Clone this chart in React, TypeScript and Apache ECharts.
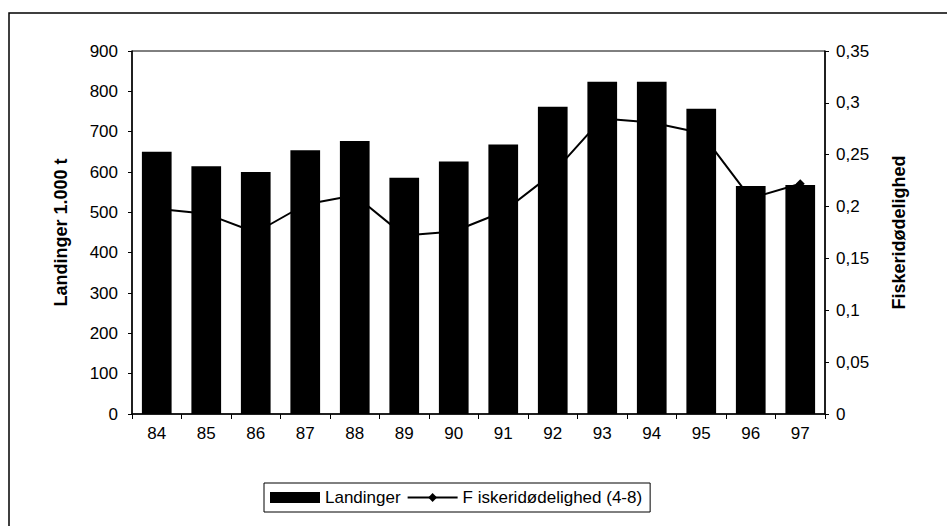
import React, { useEffect, useRef } from "react";
import * as echarts from "echarts";

const years = ["84", "85", "86", "87", "88", "89", "90", "91", "92", "93", "94", "95", "96", "97"];
const landinger = [650, 614, 600, 654, 677, 586, 626, 668, 762, 824, 824, 757, 565, 568];
const fiskeridodelighed = [0.198, 0.193, 0.175, 0.202, 0.211, 0.172, 0.176, 0.195, 0.232, 0.285, 0.281, 0.271, 0.208, 0.222];
const leftName = "Landinger 1.000 t";
const rightName = "Fiskeridødelighed";
const barName = "Landinger";
const lineName = "F iskeridødelighed (4-8)";

const FONT = "'Liberation Sans', Arial, sans-serif";

export default function App() {
  const ref = useRef<HTMLDivElement>(null);
  useEffect(() => {
    if (!ref.current) return;
    const chart = echarts.init(ref.current, null, { renderer: "svg" });
    chart.setOption({
      animation: false,
      backgroundColor: "#ffffff",
      textStyle: { fontFamily: FONT, color: "#000" },
      graphic: [
        {
          type: "rect",
          shape: { x: 9, y: 13, width: 960, height: 540 },
          style: { fill: "none", stroke: "#000", lineWidth: 1.5 },
          silent: true,
        },
      ],
      grid: {
        left: 132,
        right: 122,
        top: 51,
        bottom: 112,
        show: true,
        borderColor: "#000",
        borderWidth: 1,
        containLabel: false,
      },
      legend: {
        left: 264,
        top: 483,
        width: 420,
        borderColor: "#000",
        borderWidth: 1,
        padding: [6, 8, 6, 6],
        itemGap: 6,
        itemWidth: 50,
        itemHeight: 11,
        textStyle: { fontFamily: FONT, fontSize: 17, color: "#000" },
        data: [
          { name: barName, icon: "rect" },
          { name: lineName },
        ],
      },
      xAxis: {
        type: "category",
        data: years,
        axisLine: { lineStyle: { color: "#000", width: 1.5 } },
        axisTick: { show: true, length: 5, lineStyle: { color: "#000" } },
        axisLabel: { color: "#000", fontSize: 17, fontFamily: FONT, margin: 11 },
      },
      yAxis: [
        {
          type: "value",
          min: 0,
          max: 900,
          interval: 100,
          name: leftName,
          nameLocation: "middle",
          nameRotate: 90,
          nameGap: 62,
          nameTextStyle: { fontWeight: "bold", fontSize: 18, fontFamily: FONT, color: "#000" },
          axisLine: { show: true, lineStyle: { color: "#000", width: 1.5 } },
          axisTick: { show: true, length: 4, lineStyle: { color: "#000" } },
          axisLabel: { color: "#000", fontSize: 17, fontFamily: FONT, margin: 14 },
          splitLine: { show: false },
        },
        {
          type: "value",
          min: 0,
          max: 0.35,
          interval: 0.05,
          name: rightName,
          nameLocation: "middle",
          nameRotate: 90,
          nameGap: 65,
          nameTextStyle: { fontWeight: "bold", fontSize: 18, fontFamily: FONT, color: "#000" },
          axisLine: { show: true, lineStyle: { color: "#000", width: 1.5 } },
          axisTick: { show: true, length: 4, lineStyle: { color: "#000" } },
          axisLabel: {
            color: "#000",
            fontSize: 17,
            fontFamily: FONT,
            margin: 11,
            formatter: (v: number) => (v === 0 ? "0" : String(Math.round(v * 100) / 100).replace(".", ",")),
          },
          splitLine: { show: false },
        },
      ],
      series: [
        {
          name: barName,
          type: "bar",
          data: landinger,
          yAxisIndex: 0,
          barWidth: "60%",
          itemStyle: { color: "#000" },
          z: 2,
        },
        {
          name: lineName,
          type: "line",
          data: fiskeridodelighed,
          yAxisIndex: 1,
          symbol: "diamond",
          symbolSize: 9,
          lineStyle: { color: "#000", width: 2 },
          itemStyle: { color: "#000" },
          z: 3,
        },
      ],
    });
    return () => chart.dispose();
  }, []);
  return <div ref={ref} style={{ width: 947, height: 526, position: "absolute", left: 0, top: 0 }} />;
}
